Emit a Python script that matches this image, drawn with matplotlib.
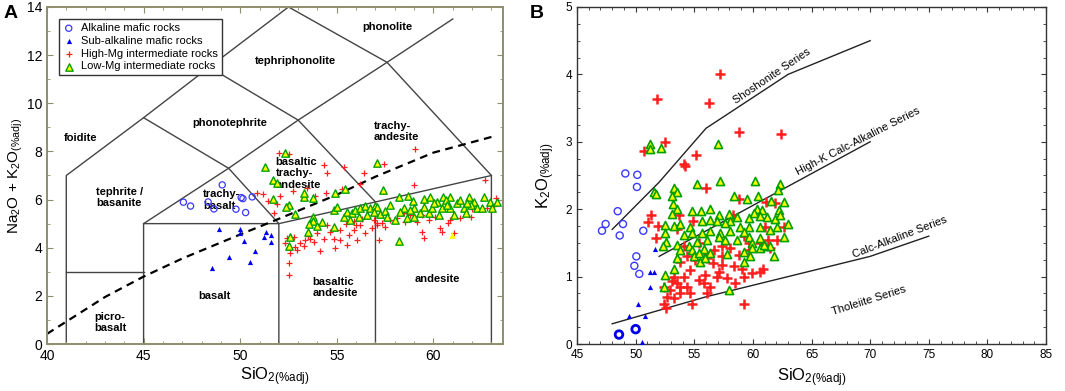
import numpy as np
import matplotlib.pyplot as plt
from matplotlib.ticker import MultipleLocator

plt.rcParams['font.family'] = ['Liberation Sans', 'DejaVu Sans']
plt.rcParams['mathtext.default'] = 'regular'

# ---- panel A data (SiO2, Na2O+K2O) ----
tas_alk = [(47.06, 5.89), (47.43, 5.73), (48.34, 5.90), (48.64, 5.61), (49.07, 6.61),
           (49.78, 5.60), (50.05, 6.08), (50.14, 6.04), (50.28, 5.46), (50.62, 6.11)]
tas_sub = [(48.88, 4.79), (49.98, 4.79), (50.00, 4.63), (51.31, 4.67), (51.57, 4.53),
           (50.19, 4.29), (51.59, 4.22), (51.21, 4.43), (49.41, 3.60), (50.76, 3.86),
           (50.52, 3.42), (48.53, 3.17)]
tas_hmg = [(51.99, 7.92), (52.55, 7.89), (54.32, 7.44), (55.35, 7.34), (56.42, 7.12),
           (57.46, 7.47), (59.03, 8.09), (58.98, 6.59), (62.69, 6.81), (63.26, 6.05),
           (63.12, 5.73), (50.87, 6.29), (51.18, 6.22), (51.44, 5.95), (52.07, 6.15),
           (51.90, 5.80), (51.76, 5.43), (52.73, 6.37), (52.42, 5.73), (53.45, 6.49),
           (53.87, 6.15), (54.44, 6.29), (54.49, 7.09), (55.27, 6.43), (56.22, 6.63),
           (52.59, 3.77), (52.50, 3.35), (52.55, 2.87), (52.85, 4.04), (53.11, 4.18),
           (53.37, 4.32), (53.63, 4.35), (52.94, 3.91), (53.32, 4.07), (53.80, 4.25),
           (54.32, 4.35), (54.15, 3.88), (54.84, 4.35), (54.92, 3.98), (55.18, 4.32),
           (55.53, 4.11), (55.61, 4.53), (54.66, 4.67), (54.49, 4.94), (55.18, 4.74),
           (56.05, 4.32), (55.87, 4.74), (56.48, 4.60), (56.82, 4.81), (56.22, 4.94),
           (57.08, 5.01), (52.33, 4.18), (52.42, 4.39), (52.76, 4.43), (57.17, 4.32),
           (59.50, 4.39), (59.41, 4.67), (60.36, 4.81), (60.45, 4.67), (61.09, 4.60),
           (60.76, 5.01), (58.55, 5.08), (59.16, 5.08), (57.77, 5.15), (56.91, 5.15),
           (57.08, 4.94), (57.34, 5.01), (57.51, 4.87), (58.12, 5.22), (59.76, 5.15),
           (60.10, 5.29), (60.88, 5.15), (61.40, 5.22), (61.92, 5.29), (62.00, 5.60),
           (61.31, 5.85), (62.78, 5.64), (58.81, 5.36), (59.41, 5.36), (58.46, 5.43),
           (55.50, 5.00), (55.90, 5.10), (56.30, 5.20), (54.00, 4.60), (53.50, 4.50),
           (56.00, 4.95)]
tas_lmg = [(52.33, 7.92), (51.30, 7.34), (51.69, 6.81), (51.90, 6.68), (51.69, 6.01),
           (52.50, 5.77), (52.38, 5.70), (52.85, 5.40), (53.28, 6.09), (53.28, 6.29),
           (53.77, 6.05), (54.92, 6.26), (55.44, 6.43), (53.77, 5.29), (53.77, 5.12),
           (54.23, 5.08), (54.00, 4.90), (53.54, 4.99), (53.51, 4.67), (52.59, 4.43),
           (52.55, 4.07), (54.87, 4.87), (54.84, 5.57), (55.01, 5.70), (55.35, 5.29),
           (55.53, 5.50), (55.79, 5.43), (55.96, 5.57), (56.22, 5.64), (56.48, 5.73),
           (56.74, 5.64), (56.99, 5.73), (55.70, 5.15), (56.13, 5.29), (56.56, 5.36),
           (57.08, 7.51), (57.25, 5.40), (57.39, 6.40), (58.20, 6.09), (58.67, 6.15),
           (58.95, 5.95), (59.53, 6.01), (59.81, 6.09), (60.19, 5.91), (60.50, 6.09),
           (60.88, 6.12), (60.67, 5.98), (61.23, 5.85), (61.83, 6.09), (62.09, 5.91),
           (62.61, 6.12), (62.92, 5.91), (63.30, 5.91), (58.20, 4.29), (58.03, 5.15),
           (58.64, 5.22), (59.02, 5.29), (59.33, 5.43), (59.76, 5.43), (59.93, 5.64),
           (60.28, 5.36), (60.45, 5.64), (60.88, 5.64), (61.05, 5.36), (61.57, 5.64),
           (61.66, 5.43), (61.92, 5.77), (62.26, 5.64), (62.52, 5.64), (63.04, 5.64),
           (58.98, 5.64), (58.46, 5.64), (57.77, 5.77), (57.51, 5.54), (57.08, 5.68),
           (56.91, 5.50), (57.60, 5.29), (58.29, 5.50), (58.81, 5.57), (59.50, 5.70),
           (60.02, 5.85), (60.71, 5.77), (61.40, 5.98), (61.75, 5.85)]
tas_odd = [(60.97, 4.53)]

# TAS field boundaries and alkaline/subalkaline divide
tas_fields = [
    [(41, 0), (41, 7), (45, 9.4), (48.4, 11.5), (52.5, 14)],
    [(41, 3), (45, 3)],
    [(45, 0), (45, 5), (49.4, 7.3), (53, 9.3), (57.6, 11.7), (61, 13.5)],
    [(45, 5), (52, 5), (57, 5.9), (63, 7)],
    [(52, 0), (52, 5), (49.4, 7.3), (45, 9.4)],
    [(57, 0), (57, 5.9), (53, 9.3), (48.4, 11.5)],
    [(63, 0), (63, 7), (57.6, 11.7), (52.5, 14)],
]
divide_x = [40, 41, 43, 45, 47, 50, 52, 55, 57, 60, 63]
divide_y = [0.42, 0.93, 1.95, 2.80, 3.55, 4.55, 5.20, 6.20, 6.95, 7.95, 8.60]

tas_names = [('phonolite', 57.6, 13.18, 'center'), ('tephriphonolite', 52.85, 11.77, 'center'),
             ('phonotephrite', 49.45, 9.19, 'center'), ('foidite', 41.75, 8.55, 'center'),
             ('trachy-\nandesite', 56.9, 8.82, 'left'), ('basaltic\ntrachy-\nandesite', 51.83, 7.09, 'left'),
             ('tephrite /\nbasanite', 42.55, 6.09, 'left'), ('trachy-\nbasalt', 48.07, 5.98, 'left'),
             ('basalt', 48.67, 1.99, 'center'), ('picro-\nbasalt', 42.45, 0.89, 'left'),
             ('basaltic\nandesite', 53.75, 2.35, 'left'), ('andesite', 60.19, 2.71, 'center')]

# ---- panel B data (SiO2, K2O) ----
k2o_alk = [(47.13, 1.68), (47.44, 1.78), (48.47, 1.97), (48.64, 1.61), (48.92, 1.78),
           (49.12, 2.53), (50.14, 2.51), (50.11, 2.33), (50.65, 1.68), (50.06, 1.30),
           (49.89, 1.16), (50.31, 1.04)]
k2o_alk_bold = [(48.58, 0.14), (50.00, 0.22)]
k2o_sub = [(51.68, 1.41), (51.25, 1.07), (51.59, 1.07), (51.25, 0.84), (50.20, 0.60),
           (49.43, 0.42), (50.82, 0.41), (50.54, 0.03)]
k2o_hmg = [(51.85, 3.63), (56.22, 3.57), (57.22, 4.00), (58.81, 3.15), (62.39, 3.11),
           (50.68, 2.87), (52.47, 3.00), (55.17, 2.80), (54.09, 2.67), (54.23, 2.64),
           (55.97, 2.31), (58.78, 2.15), (51.28, 1.92), (51.02, 1.81), (51.88, 1.75),
           (51.76, 1.57), (54.89, 1.83), (53.72, 1.92), (53.52, 1.71), (59.20, 1.60),
           (61.14, 2.10), (61.90, 2.09), (62.67, 1.74), (62.05, 1.54), (61.25, 1.54),
           (60.63, 1.50), (59.63, 1.40), (58.78, 1.32), (57.36, 1.45), (57.36, 1.30),
           (58.35, 1.15), (57.36, 1.17), (56.59, 1.20), (56.08, 1.27), (55.09, 1.25),
           (54.38, 1.30), (53.81, 1.22), (54.66, 1.10), (54.09, 1.00), (53.24, 1.00),
           (53.52, 0.90), (52.95, 0.80), (52.39, 0.85), (52.67, 0.70), (52.39, 0.60),
           (52.61, 0.53), (53.24, 0.68), (53.81, 0.75), (54.38, 0.85), (54.66, 0.75),
           (54.80, 0.60), (55.37, 0.95), (55.80, 0.90), (55.94, 1.02), (56.36, 0.85),
           (56.93, 1.00), (57.07, 1.07), (57.78, 0.98), (58.49, 0.90), (59.20, 1.00),
           (59.06, 1.12), (59.92, 1.05), (60.63, 1.07), (60.82, 1.12), (59.26, 0.60),
           (61.42, 1.42), (58.07, 1.42), (59.63, 1.50), (61.05, 1.74), (58.30, 1.92),
           (56.65, 1.40), (55.80, 1.37), (55.37, 1.50), (54.09, 1.45), (56.08, 0.75),
           (53.81, 0.85), (53.10, 0.93)]
k2o_lmg = [(51.19, 2.96), (51.19, 2.89), (52.19, 2.91), (57.02, 2.96), (57.16, 2.42),
           (60.20, 2.42), (55.23, 2.37), (62.33, 2.37), (62.10, 2.29), (51.53, 2.25),
           (51.76, 2.23), (53.30, 2.31), (53.52, 2.26), (53.10, 2.19), (58.41, 2.19),
           (59.49, 2.15), (60.43, 2.19), (61.53, 2.12), (62.67, 2.10), (53.18, 2.07),
           (53.52, 2.00), (54.80, 1.98), (55.60, 1.97), (56.36, 2.00), (60.34, 2.01),
           (60.77, 1.99), (62.19, 1.99), (53.10, 1.93), (53.24, 1.75), (53.81, 1.78),
           (54.66, 1.74), (52.53, 1.77), (57.07, 1.92), (57.93, 1.93), (58.64, 1.88),
           (59.63, 1.87), (60.06, 1.94), (60.63, 1.90), (61.20, 1.89), (61.90, 1.85),
           (62.27, 1.92), (63.00, 1.78), (61.48, 1.69), (62.05, 1.74), (60.57, 1.74),
           (59.63, 1.74), (58.92, 1.74), (58.07, 1.82), (57.64, 1.80), (56.93, 1.82),
           (56.36, 1.84), (55.65, 1.82), (59.20, 1.66), (58.07, 1.67), (57.22, 1.64),
           (56.36, 1.67), (55.65, 1.64), (54.80, 1.64), (54.09, 1.62), (62.67, 1.58),
           (52.53, 1.64), (52.61, 1.51), (52.33, 1.46), (53.52, 1.47), (54.52, 1.45),
           (55.23, 1.51), (56.08, 1.55), (57.07, 1.58), (57.59, 1.55), (58.64, 1.54),
           (59.63, 1.58), (59.92, 1.50), (60.63, 1.57), (61.05, 1.45), (61.48, 1.45),
           (53.81, 1.40), (54.80, 1.39), (55.80, 1.41), (56.36, 1.35), (57.78, 1.34),
           (59.20, 1.36), (59.92, 1.42), (60.63, 1.42), (60.91, 1.47), (61.82, 1.30),
           (53.52, 1.27), (54.94, 1.30), (55.51, 1.22), (55.94, 1.27), (55.37, 1.35),
           (59.20, 1.22), (59.77, 1.30), (53.30, 1.11), (52.47, 1.02), (52.39, 0.84),
           (57.93, 0.80)]

# Peccerillo & Taylor series boundaries
shosh_x, shosh_y = [48, 52, 56, 63, 70], [1.7, 2.4, 3.2, 4.0, 4.5]
highk_x, highk_y = [52, 70], [1.3, 3.0]
calc_x, calc_y = [48, 52, 56, 63, 70, 75], [0.3, 0.5, 0.7, 1.0, 1.3, 1.6]
series_names = [('Shoshonite Series', 61.6, 3.98, 34), ('High-K Calc-Alkaline Series', 68.95, 3.0, 27),
                ('Calc-Alkaline Series', 72.5, 1.59, 21), ('Tholeiite Series', 69.9, 0.65, 17.5)]


def xy(pts):
    a = np.array(pts)
    return a[:, 0], a[:, 1]


fig = plt.figure(figsize=(10.65, 3.91), dpi=100)
axA = fig.add_axes([0.0441, 0.1202, 0.4282, 0.862])
axB = fig.add_axes([0.5418, 0.1202, 0.4404, 0.862])

blue = '#0000ee'
circ = '#3a3aff'
red = '#ff1f1f'
green = '#00a000'
yellow = '#ffff00'

# ---- panel A ----
for seg in tas_fields:
    sx, sy = xy(seg)
    axA.plot(sx, sy, color='#444444', lw=1.0, zorder=1)
axA.plot(divide_x, divide_y, color='black', lw=1.6, dashes=(3.5, 2.5), zorder=1)
for name, tx, ty, ha in tas_names:
    axA.text(tx, ty, name, ha=ha, va='center', fontsize=8, weight='bold', linespacing=1.15, zorder=2)

axA.scatter(*xy(tas_alk), marker='o', s=20, facecolor='none', edgecolor=circ, lw=0.9, zorder=3,
            label='Alkaline mafic rocks')
axA.scatter(*xy(tas_sub), marker='^', s=14, color=blue, lw=0, zorder=3, label='Sub-alkaline mafic rocks')
axA.scatter(*xy(tas_hmg), marker='+', s=18, color=red, lw=0.9, zorder=3, label='High-Mg intermediate rocks')
axA.scatter(*xy(tas_lmg), marker='^', s=28, facecolor=yellow, edgecolor=green, lw=1.0, zorder=4,
            label='Low-Mg intermediate rocks')
axA.scatter(*xy(tas_odd), marker='^', s=22, color=yellow, lw=0, zorder=4)

axA.set_xlim(40, 63.6)
axA.set_ylim(0, 14)
axA.xaxis.set_major_locator(MultipleLocator(5))
axA.xaxis.set_minor_locator(MultipleLocator(1))
axA.yaxis.set_major_locator(MultipleLocator(2))
axA.yaxis.set_minor_locator(MultipleLocator(1))
olive = '#8e8e6c'
for s in axA.spines.values():
    s.set_color(olive)
    s.set_linewidth(1.4)
axA.tick_params(which='both', direction='in', top=True, right=True, color=olive, labelsize=10)
axA.tick_params(which='major', length=4)
axA.tick_params(which='minor', length=2.5)
axA.set_xlabel('SiO$_{2(\\%adj)}$', fontsize=12, labelpad=2)
axA.set_ylabel('Na$_2$O + K$_2$O$_{(\\%adj)}$', fontsize=11, labelpad=1)
leg = axA.legend(loc='upper left', bbox_to_anchor=(0.027, 0.9635), borderaxespad=0, fontsize=8,
                 fancybox=False, edgecolor='#333333', framealpha=1, handlelength=1.0,
                 handletextpad=0.6, labelspacing=0.25, borderpad=0.35, scatterpoints=1)
leg.get_frame().set_linewidth(1.0)
leg.set_zorder(10)

# ---- panel B ----
axB.plot(shosh_x, shosh_y, color='#222222', lw=1.0)
axB.plot(highk_x, highk_y, color='#222222', lw=1.0)
axB.plot(calc_x, calc_y, color='#222222', lw=1.0)
for name, tx, ty, rot in series_names:
    axB.text(tx, ty, name, ha='center', va='center', rotation=rot, fontsize=8,
             rotation_mode='anchor')

axB.scatter(*xy(k2o_alk), marker='o', s=26, facecolor='none', edgecolor=circ, lw=1.0, zorder=3)
axB.scatter(*xy(k2o_alk_bold), marker='o', s=30, facecolor='none', edgecolor=blue, lw=2.0, zorder=3)
axB.scatter(*xy(k2o_sub), marker='^', s=14, color=blue, lw=0, zorder=3)
axB.scatter(*xy(k2o_hmg), marker='+', s=42, color=red, lw=1.8, zorder=3)
axB.scatter(*xy(k2o_lmg), marker='^', s=34, facecolor=yellow, edgecolor=green, lw=1.2, zorder=4)

axB.set_xlim(45, 85)
axB.set_ylim(0, 5)
axB.xaxis.set_major_locator(MultipleLocator(5))
axB.xaxis.set_minor_locator(MultipleLocator(1))
axB.yaxis.set_major_locator(MultipleLocator(1))
axB.yaxis.set_minor_locator(MultipleLocator(0.25))
for s in axB.spines.values():
    s.set_color('#333333')
    s.set_linewidth(1.0)
axB.tick_params(which='both', direction='in', top=True, right=True, color='#333333', labelsize=8.5)
axB.tick_params(which='major', length=3.5)
axB.tick_params(which='minor', length=2)
axB.set_xlabel('SiO$_{2(\\%adj)}$', fontsize=12, labelpad=4)
axB.set_ylabel('K$_2$O$_{(\\%adj)}$', fontsize=12, labelpad=6)

fig.text(0.003, 0.988, 'A', fontsize=14, weight='bold', va='top', ha='left')
fig.text(0.4977, 0.988, 'B', fontsize=14, weight='bold', va='top', ha='left')

fig.savefig('out.png', dpi=100)
